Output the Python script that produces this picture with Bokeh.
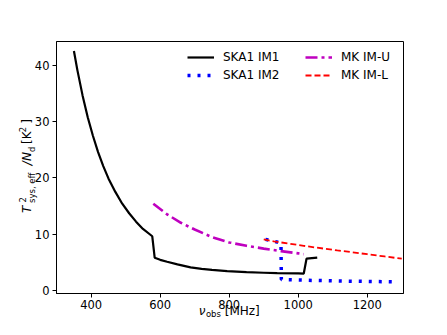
import math
from bokeh.plotting import figure
from bokeh.models import Range1d, Legend, LegendItem, Label, FixedTicker
from bokeh.embed import file_html
from bokeh.resources import INLINE

# ---- data ----
im1_freq = [350, 360, 375, 390, 405, 420, 435, 450, 470, 490, 510, 530, 550, 577,
            584, 600, 620, 650, 688, 720, 750, 794, 850, 900, 939, 1000, 1016,
            1024, 1055]
im1_val = [42.6, 39.2, 34.7, 30.8, 27.5, 24.6, 22.1, 19.9, 17.5, 15.4, 13.7, 12.2, 10.9, 9.6,
           5.78, 5.4, 5.05, 4.6, 4.05, 3.8, 3.6, 3.39, 3.2, 3.1, 3.03, 2.98, 2.95,
           5.6, 5.78]

im2_freq = [905, 930, 950, 951, 975, 1000, 1050, 1100, 1150, 1200, 1250, 1285]
im2_val = [9.05, 8.7, 8.4, 1.88, 1.85, 1.8, 1.72, 1.65, 1.6, 1.55, 1.5, 1.47]

mku_freq = [580, 620, 660, 700, 750, 800, 850, 900, 950, 1000, 1016]
mku_val = [15.4, 13.5, 12.0, 10.8, 9.45, 8.5, 7.9, 7.4, 6.95, 6.55, 6.4]

mkl_freq = [900, 929, 1000, 1016, 1050, 1113, 1150, 1200, 1250, 1300]
mkl_val = [9.05, 8.69, 8.05, 7.9, 7.6, 7.08, 6.8, 6.4, 6.0, 5.6]

x_ticks = [400, 600, 800, 1000, 1200]
y_ticks = [0, 10, 20, 30, 40]

FONT = "DejaVu Sans"
NB = "\u00a0"
TH = "\u2009"

p = figure(width=431, height=319, output_backend="svg", toolbar_location=None,
           x_range=Range1d(299.5, 1305), y_range=Range1d(-0.6, 44.3),
           min_border_left=56, min_border_right=28, min_border_top=41,
           min_border_bottom=26)
p.background_fill_color = "white"
p.border_fill_color = "white"
p.outline_line_color = "black"
p.outline_line_width = 1
p.grid.visible = False

for ax in (p.xaxis[0], p.yaxis[0]):
    ax.axis_line_color = "black"
    ax.major_tick_line_color = "black"
    ax.major_tick_out = 4
    ax.major_tick_in = 0
    ax.minor_tick_line_color = None
    ax.major_label_text_font = FONT
    ax.major_label_text_font_size = "11.5px"
    ax.major_label_text_color = "black"
    ax.major_label_standoff = 3
p.xaxis[0].major_label_standoff = 2
p.xaxis[0].ticker = FixedTicker(ticks=x_ticks)
p.yaxis[0].ticker = FixedTicker(ticks=y_ticks)

r1 = p.line(im1_freq, im1_val, line_color="black", line_width=2.2)
r2 = p.line(im2_freq, im2_val, line_color="#0000ff", line_width=3.5,
            line_dash=[3, 7])
r3 = p.line(mku_freq, mku_val, line_color="#bf00bf", line_width=2.6,
            line_dash=[12, 4, 3, 4])
r4 = p.line(mkl_freq, mkl_val, line_color="#ff0000", line_width=1.8,
            line_dash=[6, 3])

def mk_legend(items, x, y):
    lg = Legend(items=items, location=(x, y))
    lg.label_text_font = FONT
    lg.label_text_font_size = "12px"
    lg.label_text_color = "black"
    lg.glyph_width = 27
    lg.glyph_height = 18
    lg.label_height = 18
    lg.label_standoff = 9
    lg.spacing = 0
    lg.padding = 0
    lg.margin = 0
    lg.border_line_alpha = 0
    lg.background_fill_alpha = 0
    return lg

p.add_layout(mk_legend([LegendItem(label="SKA1 IM1", renderers=[r1]),
                        LegendItem(label="SKA1 IM2", renderers=[r2])], 131, 209), "center")
p.add_layout(mk_legend([LegendItem(label="MK IM-U", renderers=[r3]),
                        LegendItem(label="MK IM-L", renderers=[r4])], 249, 209), "center")

# ---- axis label pieces (placed in side panels so they are not clipped) ----
def lab(text, x, y, size, italic, angle, place):
    p.add_layout(Label(x=x, y=y, x_units="screen", y_units="screen", text=text,
                       angle=angle, text_font=FONT, text_font_size=size,
                       text_font_style="italic" if italic else "normal",
                       text_color="black", text_align="left",
                       text_baseline="alphabetic"), place)

A = math.pi / 2
# y label: T^2_{sys, eff} /N_d [K^2]
lab("T" + NB * 10 + TH + "/N", 9, 80.5, "12px", True, A, "left")
lab("[K" + NB * 2 + "]", 23, 149.5, "12px", False, A, "left")
lab("2" + NB * 24 + "2", -381, 91, "8.5px", False, A, "right")
lab("sys, eff" + NB * 7 + TH + "d", -382, 90.5, "8.5px", False, A, "right")

# x label: nu_obs [MHz]
lab("\u03bd", 142.3, -269.5, "12px", True, 0.0, "above")
lab("[MHz]", 168.2, -283.5, "12px", False, 0.0, "above")
lab("obs", 149.4, -300.5, "8.5px", False, 0.0, "above")

open("out.html", "w").write(file_html(p, INLINE))
